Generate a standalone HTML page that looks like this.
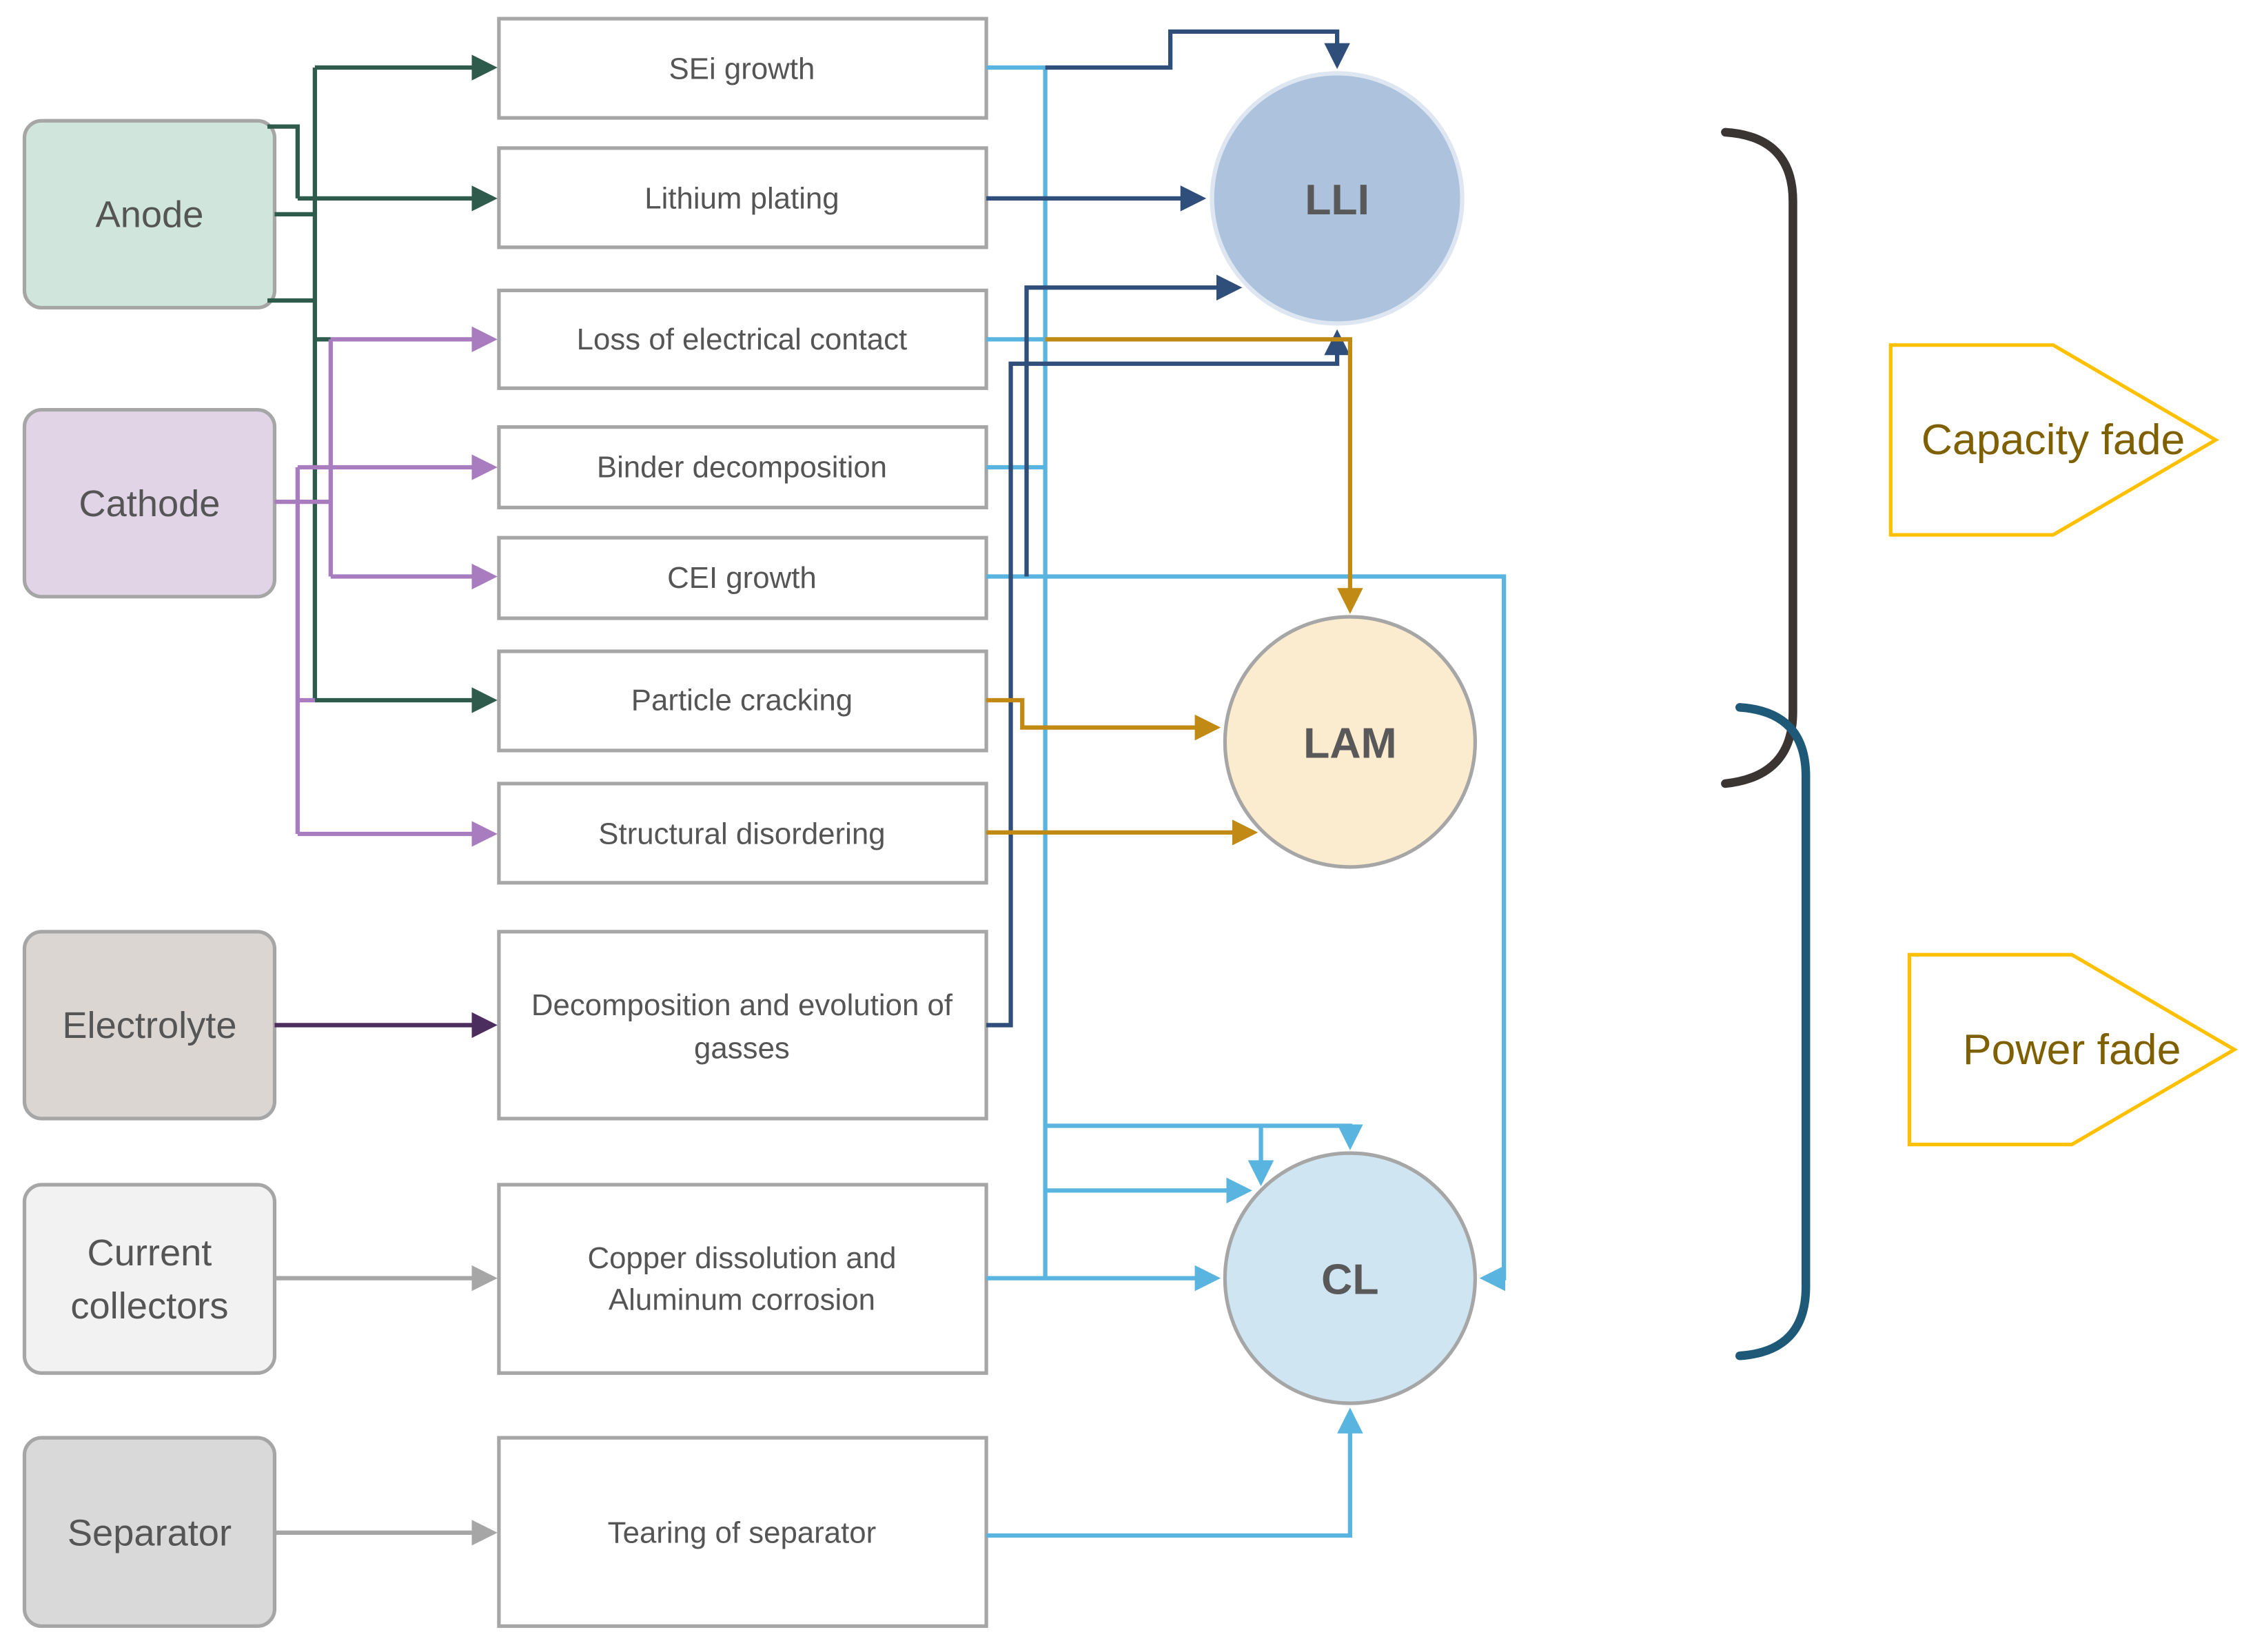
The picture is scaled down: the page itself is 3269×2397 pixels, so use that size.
<!DOCTYPE html>
<html><head><meta charset="utf-8"><style>
html,body{margin:0;padding:0;background:#fff;}
svg{display:block;}
text{font-family:"Liberation Sans",sans-serif;}
</style></head><body>
<svg width="3269" height="2397" viewBox="0 0 1567 1149" preserveAspectRatio="none" xmlns="http://www.w3.org/2000/svg">
<defs>
<marker id="ag" markerWidth="6" markerHeight="6" refX="5" refY="3" orient="auto" markerUnits="strokeWidth"><path d="M0,0 L6,3 L0,6z" fill="#2e5b4b"/></marker>
<marker id="ap" markerWidth="6" markerHeight="6" refX="5" refY="3" orient="auto" markerUnits="strokeWidth"><path d="M0,0 L6,3 L0,6z" fill="#a87cbf"/></marker>
<marker id="ad" markerWidth="6" markerHeight="6" refX="5" refY="3" orient="auto" markerUnits="strokeWidth"><path d="M0,0 L6,3 L0,6z" fill="#4b2d5e"/></marker>
<marker id="ay" markerWidth="6" markerHeight="6" refX="5" refY="3" orient="auto" markerUnits="strokeWidth"><path d="M0,0 L6,3 L0,6z" fill="#a6a6a6"/></marker>
<marker id="ab" markerWidth="6" markerHeight="6" refX="5" refY="3" orient="auto" markerUnits="strokeWidth"><path d="M0,0 L6,3 L0,6z" fill="#5ab4e0"/></marker>
<marker id="an" markerWidth="6" markerHeight="6" refX="5" refY="3" orient="auto" markerUnits="strokeWidth"><path d="M0,0 L6,3 L0,6z" fill="#2f4e7a"/></marker>
<marker id="ao" markerWidth="6" markerHeight="6" refX="5" refY="3" orient="auto" markerUnits="strokeWidth"><path d="M0,0 L6,3 L0,6z" fill="#c08a14"/></marker>
</defs>

<g stroke="#a6a6a6" stroke-width="2.5">
<rect x="17" y="84" width="174" height="130" rx="12" fill="#d0e6dc"/>
<rect x="17" y="285" width="174" height="130" rx="12" fill="#e1d4e7"/>
<rect x="17" y="648" width="174" height="130" rx="12" fill="#dcd6d3"/>
<rect x="17" y="824" width="174" height="131" rx="12" fill="#f2f2f2"/>
<rect x="17" y="1000" width="174" height="131" rx="12" fill="#d9d9d9"/>
</g>
<g font-size="26" fill="#555" text-anchor="middle">
<text x="104" y="158">Anode</text>
<text x="104" y="359">Cathode</text>
<text x="104" y="722">Electrolyte</text>
<text x="104" y="880">Current</text>
<text x="104" y="917">collectors</text>
<text x="104" y="1075">Separator</text>
</g>

<g stroke="#a6a6a6" stroke-width="2.5" fill="#fff">
<rect x="347" y="13" width="339" height="69"/>
<rect x="347" y="103" width="339" height="69"/>
<rect x="347" y="202" width="339" height="68"/>
<rect x="347" y="297" width="339" height="56"/>
<rect x="347" y="374" width="339" height="56"/>
<rect x="347" y="453" width="339" height="69"/>
<rect x="347" y="545" width="339" height="69"/>
<rect x="347" y="648" width="339" height="130"/>
<rect x="347" y="824" width="339" height="131"/>
<rect x="347" y="1000" width="339" height="131"/>
</g>
<g font-size="21" fill="#555" text-anchor="middle">
<text x="516" y="55">SEi growth</text>
<text x="516" y="145">Lithium plating</text>
<text x="516" y="243">Loss of electrical contact</text>
<text x="516" y="332">Binder decomposition</text>
<text x="516" y="409">CEI growth</text>
<text x="516" y="494">Particle cracking</text>
<text x="516" y="587">Structural disordering</text>
<text x="516" y="706">Decomposition and evolution of</text>
<text x="516" y="736">gasses</text>
<text x="516" y="882">Copper dissolution and</text>
<text x="516" y="911">Aluminum corrosion</text>
<text x="516" y="1073">Tearing of separator</text>
</g>

<g fill="none" stroke="#2e5b4b" stroke-width="3">
<path d="M186,88 H207 V138"/>
<path d="M191,149 H219"/>
<path d="M186,209 H219"/>
<path d="M219,47 V487"/>
<path d="M219,47 H343" marker-end="url(#ag)"/>
<path d="M207,138 H343" marker-end="url(#ag)"/>
<path d="M219,487 H343" marker-end="url(#ag)"/>
<path d="M219,236 H230"/>
</g>
<g fill="none" stroke="#a87cbf" stroke-width="3">
<path d="M191,349 H230"/>
<path d="M230,236 V401"/>
<path d="M230,236 H343" marker-end="url(#ap)"/>
<path d="M230,401 H343" marker-end="url(#ap)"/>
<path d="M207,325 V580"/>
<path d="M207,325 H343" marker-end="url(#ap)"/>
<path d="M207,580 H343" marker-end="url(#ap)"/>
<path d="M207,487 H219"/>
</g>
<path d="M191,713 H343" fill="none" stroke="#4b2d5e" stroke-width="3" marker-end="url(#ad)"/>
<path d="M191,889 H343" fill="none" stroke="#a6a6a6" stroke-width="3" marker-end="url(#ay)"/>
<path d="M191,1066 H343" fill="none" stroke="#a6a6a6" stroke-width="3" marker-end="url(#ay)"/>

<circle cx="930" cy="138" r="87" fill="#adc2dc" stroke="#dde6f1" stroke-width="3"/>
<circle cx="939" cy="516" r="87" fill="#fbeccf" stroke="#a6a6a6" stroke-width="2.5"/>
<circle cx="939" cy="889" r="87" fill="#cfe5f2" stroke="#a6a6a6" stroke-width="2.5"/>
<g font-size="30" font-weight="bold" fill="#595959" text-anchor="middle">
<text x="930" y="149">LLI</text>
<text x="939" y="527">LAM</text>
<text x="939" y="900">CL</text>
</g>

<g fill="none" stroke="#5ab4e0" stroke-width="3">
<path d="M686,47 H727"/>
<path d="M727,47 V889"/>
<path d="M686,236 H727"/>
<path d="M686,325 H727"/>
<path d="M686,401 H1046 V889 H1032" marker-end="url(#ab)"/>
<path d="M686,889 H846" marker-end="url(#ab)"/>
<path d="M727,783 H939 V797" marker-end="url(#ab)"/>
<path d="M877,783 V822" marker-end="url(#ab)"/>
<path d="M727,828 H868" marker-end="url(#ab)"/>
<path d="M686,1068 H939 V982" marker-end="url(#ab)"/>
</g>
<g fill="none" stroke="#2f4e7a" stroke-width="3">
<path d="M727,47 H814 V22 H930 V45" marker-end="url(#an)"/>
<path d="M686,138 H836" marker-end="url(#an)"/>
<path d="M686,713 H703 V253 H930 V232" marker-end="url(#an)"/>
<path d="M714,401 V200 H861" marker-end="url(#an)"/>
</g>
<g fill="none" stroke="#c08a14" stroke-width="3">
<path d="M727,236 H939 V424" marker-end="url(#ao)"/>
<path d="M686,487 H711 V506 H846" marker-end="url(#ao)"/>
<path d="M686,579 H872" marker-end="url(#ao)"/>
</g>

<path d="M1200,92 Q1247,95 1247,140 V495 Q1247,540 1200,545" fill="none" stroke="#3a3433" stroke-width="6" stroke-linecap="round"/>
<path d="M1210,492 Q1256,495 1256,540 V895 Q1256,940 1210,943" fill="none" stroke="#1e5a78" stroke-width="6" stroke-linecap="round"/>

<path d="M1315,240 H1428 L1541,306 L1428,372 H1315 Z" fill="#fff" stroke="#ffc000" stroke-width="2.5"/>
<path d="M1328,664 H1441 L1554,730 L1441,796 H1328 Z" fill="#fff" stroke="#ffc000" stroke-width="2.5"/>
<g font-size="30" fill="#7f6000" text-anchor="middle">
<text x="1428" y="316">Capacity fade</text>
<text x="1441" y="740">Power fade</text>
</g>
</svg>
</body></html>
